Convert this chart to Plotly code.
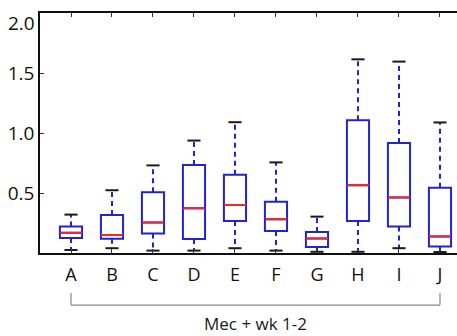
import plotly.graph_objects as go

categories = ["A", "B", "C", "D", "E", "F", "G", "H", "I", "J"]
q1 = [0.126, 0.118, 0.163, 0.116, 0.267, 0.184, 0.050, 0.267, 0.220, 0.055]
median = [0.168, 0.150, 0.254, 0.372, 0.400, 0.281, 0.121, 0.565, 0.463, 0.138]
q3 = [0.220, 0.317, 0.507, 0.733, 0.653, 0.427, 0.174, 1.107, 0.917, 0.543]
lower = [0.025, 0.040, 0.020, 0.020, 0.040, 0.020, 0.010, 0.010, 0.040, 0.008]
upper = [0.320, 0.523, 0.730, 0.937, 1.090, 0.755, 0.303, 1.614, 1.595, 1.088]
ytick_vals = [0.5, 1.0, 1.5]
ytick_text = ["0.5", "1.0", "1.5"]
group_label = "Mec + wk 1-2"

pos = [i + 1 for i in range(len(categories))]
BLUE = "#2323cf"
RED = "#f02828"
FONT = "Open Sans"
box_w = 0.54
cap_half = 0.16

fig = go.Figure()

fig.add_trace(go.Box(
    x=pos, q1=q1, median=median, q3=q3, lowerfence=q1, upperfence=q3,
    width=box_w, line=dict(color=BLUE, width=2), fillcolor="rgba(0,0,0,0)",
    whiskerwidth=0, showlegend=False, hoverinfo="skip"))

wx, wy = [], []
for p, a, b, lo, hi in zip(pos, q1, q3, lower, upper):
    wx += [p, p, None, p, p, None]
    wy += [b, hi, None, a, lo, None]
fig.add_trace(go.Scatter(x=wx, y=wy, mode="lines",
                         line=dict(color=BLUE, width=2, dash="5px,4px"),
                         showlegend=False, hoverinfo="skip"))

cx, cy = [], []
for p, lo, hi in zip(pos, lower, upper):
    cx += [p - cap_half, p + cap_half, None, p - cap_half, p + cap_half, None]
    cy += [hi, hi, None, lo, lo, None]
fig.add_trace(go.Scatter(x=cx, y=cy, mode="lines",
                         line=dict(color="#1a1a1a", width=2),
                         showlegend=False, hoverinfo="skip"))

mx, my = [], []
for p, m in zip(pos, median):
    mx += [p - box_w / 2, p + box_w / 2, None]
    my += [m, m, None]
fig.add_trace(go.Scatter(x=mx, y=my, mode="lines",
                         line=dict(color=RED, width=2),
                         showlegend=False, hoverinfo="skip"))

# group bracket under the axis
fig.add_shape(type="line", xref="x", yref="paper", x0=pos[0], x1=pos[-1],
              y0=-0.217, y1=-0.217, line=dict(color="#8a8a8a", width=1.2))
for p in (pos[0], pos[-1]):
    fig.add_shape(type="line", xref="x", yref="paper", x0=p, x1=p,
                  y0=-0.217, y1=-0.167, line=dict(color="#8a8a8a", width=1.2))
fig.add_annotation(x=(pos[0] + pos[-1]) / 2, xref="x", y=-0.292, yref="paper",
                   text=group_label, showarrow=False,
                   font=dict(family=FONT, size=17, color="#1a1a1a"),
                   xanchor="center", yanchor="middle")
fig.add_annotation(x=0, xref="paper", y=2.0, yref="y", text="2.0",
                   showarrow=False, xanchor="right", yanchor="middle",
                   xshift=-3, yshift=-10,
                   font=dict(family=FONT, size=19, color="#111"))

fig.update_layout(
    width=457, height=336,
    margin=dict(l=40, r=0, t=13, b=83),
    paper_bgcolor="white", plot_bgcolor="white",
    font=dict(family=FONT, size=18, color="#111"),
    xaxis=dict(range=[0.244, 10.415], tickvals=pos, ticktext=categories,
               ticks="inside", ticklen=4, tickcolor="#333",
               showline=True, linecolor="#111", linewidth=1.5,
               mirror="ticks", showgrid=False, zeroline=False,
               tickfont=dict(family=FONT, size=18), ticklabelstandoff=5),
    yaxis=dict(range=[0, 2.0], tickvals=ytick_vals, ticktext=ytick_text,
               ticks="inside", ticklen=4, tickcolor="#333",
               showline=True, linecolor="#111", linewidth=1.5,
               mirror=False, showgrid=False, zeroline=False,
               tickfont=dict(family=FONT, size=19)),
)

fig.write_html(
    "out.html",
    config={"displayModeBar": False},
    post_script="document.body.style.margin='0';document.body.style.overflow='hidden';",
)
